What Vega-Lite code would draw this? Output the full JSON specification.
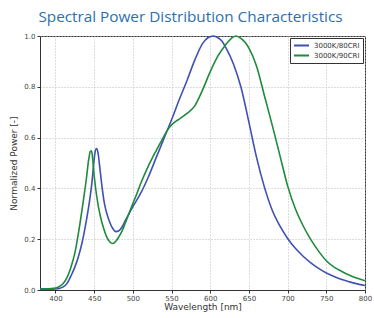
{
  "$schema": "https://vega.github.io/schema/vega-lite/v6.json",
  "width": 325,
  "height": 254,
  "autosize": {"type": "none"},
  "padding": {"left": 40, "top": 36, "right": 9, "bottom": 28},
  "background": "white",
  "title": {
    "text": "Spectral Power Distribution Characteristics",
    "font": "Open Sans",
    "fontSize": 15.3,
    "fontWeight": "normal",
    "color": "#2a6fb0",
    "anchor": "middle",
    "dx": -12,
    "offset": 7
  },
  "config": {
    "view": {"stroke": "#333", "strokeWidth": 1},
    "axis": {
      "labelFont": "DejaVu Sans",
      "labelFontSize": 7,
      "labelColor": "#444",
      "titleFont": "DejaVu Sans",
      "titleFontSize": 9,
      "titleFontWeight": "normal",
      "titleColor": "#333",
      "gridColor": "#bbb",
      "gridDash": [1, 2],
      "gridWidth": 1,
      "domainColor": "#333",
      "tickColor": "#333",
      "tickSize": 3,
      "tickOffset": 0,
      "labelFlush": false
    }
  },
  "data": {
    "values": [
      {"wl": 380, "p": 0.003, "s": "3000K/80CRI"},
      {"wl": 390, "p": 0.003, "s": "3000K/80CRI"},
      {"wl": 400, "p": 0.004, "s": "3000K/80CRI"},
      {"wl": 405, "p": 0.006, "s": "3000K/80CRI"},
      {"wl": 410, "p": 0.012, "s": "3000K/80CRI"},
      {"wl": 415, "p": 0.026, "s": "3000K/80CRI"},
      {"wl": 420, "p": 0.055, "s": "3000K/80CRI"},
      {"wl": 425, "p": 0.09, "s": "3000K/80CRI"},
      {"wl": 430, "p": 0.135, "s": "3000K/80CRI"},
      {"wl": 435, "p": 0.195, "s": "3000K/80CRI"},
      {"wl": 440, "p": 0.275, "s": "3000K/80CRI"},
      {"wl": 444, "p": 0.35, "s": "3000K/80CRI"},
      {"wl": 447, "p": 0.42, "s": "3000K/80CRI"},
      {"wl": 449.5, "p": 0.5, "s": "3000K/80CRI"},
      {"wl": 451.5, "p": 0.548, "s": "3000K/80CRI"},
      {"wl": 453, "p": 0.557, "s": "3000K/80CRI"},
      {"wl": 455, "p": 0.54, "s": "3000K/80CRI"},
      {"wl": 457, "p": 0.49, "s": "3000K/80CRI"},
      {"wl": 460, "p": 0.41, "s": "3000K/80CRI"},
      {"wl": 463, "p": 0.345, "s": "3000K/80CRI"},
      {"wl": 466, "p": 0.305, "s": "3000K/80CRI"},
      {"wl": 470, "p": 0.268, "s": "3000K/80CRI"},
      {"wl": 474, "p": 0.242, "s": "3000K/80CRI"},
      {"wl": 478, "p": 0.23, "s": "3000K/80CRI"},
      {"wl": 482, "p": 0.233, "s": "3000K/80CRI"},
      {"wl": 486, "p": 0.248, "s": "3000K/80CRI"},
      {"wl": 490, "p": 0.272, "s": "3000K/80CRI"},
      {"wl": 495, "p": 0.3, "s": "3000K/80CRI"},
      {"wl": 500, "p": 0.328, "s": "3000K/80CRI"},
      {"wl": 510, "p": 0.38, "s": "3000K/80CRI"},
      {"wl": 520, "p": 0.445, "s": "3000K/80CRI"},
      {"wl": 530, "p": 0.52, "s": "3000K/80CRI"},
      {"wl": 540, "p": 0.595, "s": "3000K/80CRI"},
      {"wl": 550, "p": 0.67, "s": "3000K/80CRI"},
      {"wl": 560, "p": 0.75, "s": "3000K/80CRI"},
      {"wl": 570, "p": 0.825, "s": "3000K/80CRI"},
      {"wl": 580, "p": 0.905, "s": "3000K/80CRI"},
      {"wl": 590, "p": 0.97, "s": "3000K/80CRI"},
      {"wl": 597, "p": 0.993, "s": "3000K/80CRI"},
      {"wl": 604, "p": 1.0, "s": "3000K/80CRI"},
      {"wl": 610, "p": 0.993, "s": "3000K/80CRI"},
      {"wl": 615, "p": 0.98, "s": "3000K/80CRI"},
      {"wl": 620, "p": 0.955, "s": "3000K/80CRI"},
      {"wl": 630, "p": 0.89, "s": "3000K/80CRI"},
      {"wl": 640, "p": 0.795, "s": "3000K/80CRI"},
      {"wl": 650, "p": 0.66, "s": "3000K/80CRI"},
      {"wl": 660, "p": 0.52, "s": "3000K/80CRI"},
      {"wl": 670, "p": 0.405, "s": "3000K/80CRI"},
      {"wl": 680, "p": 0.315, "s": "3000K/80CRI"},
      {"wl": 690, "p": 0.252, "s": "3000K/80CRI"},
      {"wl": 700, "p": 0.203, "s": "3000K/80CRI"},
      {"wl": 710, "p": 0.164, "s": "3000K/80CRI"},
      {"wl": 720, "p": 0.133, "s": "3000K/80CRI"},
      {"wl": 730, "p": 0.107, "s": "3000K/80CRI"},
      {"wl": 740, "p": 0.085, "s": "3000K/80CRI"},
      {"wl": 750, "p": 0.067, "s": "3000K/80CRI"},
      {"wl": 760, "p": 0.053, "s": "3000K/80CRI"},
      {"wl": 770, "p": 0.041, "s": "3000K/80CRI"},
      {"wl": 780, "p": 0.032, "s": "3000K/80CRI"},
      {"wl": 790, "p": 0.024, "s": "3000K/80CRI"},
      {"wl": 800, "p": 0.018, "s": "3000K/80CRI"},
      {"wl": 380, "p": 0.005, "s": "3000K/90CRI"},
      {"wl": 390, "p": 0.005, "s": "3000K/90CRI"},
      {"wl": 400, "p": 0.008, "s": "3000K/90CRI"},
      {"wl": 405, "p": 0.014, "s": "3000K/90CRI"},
      {"wl": 410, "p": 0.026, "s": "3000K/90CRI"},
      {"wl": 415, "p": 0.05, "s": "3000K/90CRI"},
      {"wl": 420, "p": 0.09, "s": "3000K/90CRI"},
      {"wl": 425, "p": 0.145, "s": "3000K/90CRI"},
      {"wl": 430, "p": 0.23, "s": "3000K/90CRI"},
      {"wl": 435, "p": 0.33, "s": "3000K/90CRI"},
      {"wl": 440, "p": 0.44, "s": "3000K/90CRI"},
      {"wl": 443, "p": 0.515, "s": "3000K/90CRI"},
      {"wl": 445, "p": 0.545, "s": "3000K/90CRI"},
      {"wl": 446.5, "p": 0.548, "s": "3000K/90CRI"},
      {"wl": 448, "p": 0.52, "s": "3000K/90CRI"},
      {"wl": 450, "p": 0.45, "s": "3000K/90CRI"},
      {"wl": 453, "p": 0.375, "s": "3000K/90CRI"},
      {"wl": 458, "p": 0.29, "s": "3000K/90CRI"},
      {"wl": 462, "p": 0.245, "s": "3000K/90CRI"},
      {"wl": 466, "p": 0.21, "s": "3000K/90CRI"},
      {"wl": 470, "p": 0.19, "s": "3000K/90CRI"},
      {"wl": 474, "p": 0.183, "s": "3000K/90CRI"},
      {"wl": 478, "p": 0.192, "s": "3000K/90CRI"},
      {"wl": 482, "p": 0.21, "s": "3000K/90CRI"},
      {"wl": 486, "p": 0.232, "s": "3000K/90CRI"},
      {"wl": 490, "p": 0.262, "s": "3000K/90CRI"},
      {"wl": 495, "p": 0.302, "s": "3000K/90CRI"},
      {"wl": 500, "p": 0.34, "s": "3000K/90CRI"},
      {"wl": 505, "p": 0.378, "s": "3000K/90CRI"},
      {"wl": 510, "p": 0.418, "s": "3000K/90CRI"},
      {"wl": 520, "p": 0.488, "s": "3000K/90CRI"},
      {"wl": 530, "p": 0.548, "s": "3000K/90CRI"},
      {"wl": 540, "p": 0.604, "s": "3000K/90CRI"},
      {"wl": 545, "p": 0.631, "s": "3000K/90CRI"},
      {"wl": 550, "p": 0.65, "s": "3000K/90CRI"},
      {"wl": 555, "p": 0.663, "s": "3000K/90CRI"},
      {"wl": 560, "p": 0.673, "s": "3000K/90CRI"},
      {"wl": 570, "p": 0.695, "s": "3000K/90CRI"},
      {"wl": 580, "p": 0.725, "s": "3000K/90CRI"},
      {"wl": 590, "p": 0.787, "s": "3000K/90CRI"},
      {"wl": 600, "p": 0.86, "s": "3000K/90CRI"},
      {"wl": 610, "p": 0.922, "s": "3000K/90CRI"},
      {"wl": 620, "p": 0.966, "s": "3000K/90CRI"},
      {"wl": 627, "p": 0.99, "s": "3000K/90CRI"},
      {"wl": 633, "p": 1.0, "s": "3000K/90CRI"},
      {"wl": 640, "p": 0.99, "s": "3000K/90CRI"},
      {"wl": 645, "p": 0.975, "s": "3000K/90CRI"},
      {"wl": 650, "p": 0.952, "s": "3000K/90CRI"},
      {"wl": 660, "p": 0.88, "s": "3000K/90CRI"},
      {"wl": 670, "p": 0.765, "s": "3000K/90CRI"},
      {"wl": 680, "p": 0.65, "s": "3000K/90CRI"},
      {"wl": 690, "p": 0.53, "s": "3000K/90CRI"},
      {"wl": 700, "p": 0.41, "s": "3000K/90CRI"},
      {"wl": 710, "p": 0.32, "s": "3000K/90CRI"},
      {"wl": 720, "p": 0.253, "s": "3000K/90CRI"},
      {"wl": 730, "p": 0.198, "s": "3000K/90CRI"},
      {"wl": 740, "p": 0.153, "s": "3000K/90CRI"},
      {"wl": 750, "p": 0.115, "s": "3000K/90CRI"},
      {"wl": 760, "p": 0.09, "s": "3000K/90CRI"},
      {"wl": 770, "p": 0.073, "s": "3000K/90CRI"},
      {"wl": 780, "p": 0.058, "s": "3000K/90CRI"},
      {"wl": 790, "p": 0.046, "s": "3000K/90CRI"},
      {"wl": 800, "p": 0.036, "s": "3000K/90CRI"}
    ]
  },
  "mark": {"type": "line", "interpolate": "monotone", "strokeWidth": 1.6},
  "encoding": {
    "x": {
      "field": "wl",
      "type": "quantitative",
      "scale": {"domain": [380, 800], "nice": false, "zero": false},
      "axis": {"title": "Wavelength [nm]", "values": [400, 450, 500, 550, 600, 650, 700, 750, 800], "titlePadding": 1, "labelPadding": 1}
    },
    "y": {
      "field": "p",
      "type": "quantitative",
      "scale": {"domain": [0, 1], "nice": false},
      "axis": {"title": "Normalized Power [-]", "values": [0, 0.2, 0.4, 0.6, 0.8, 1.0], "format": ".1f", "titlePadding": 5, "labelPadding": 2}
    },
    "color": {
      "field": "s",
      "type": "nominal",
      "scale": {"domain": ["3000K/80CRI", "3000K/90CRI"], "range": ["#3f51b3", "#1e8b3c"]},
      "legend": {
        "title": null,
        "orient": "top-right",
        "offset": 2,
        "symbolType": "stroke",
        "symbolSize": 225,
        "symbolStrokeWidth": 2,
        "clipHeight": 9,
        "labelFont": "DejaVu Sans",
        "labelFontSize": 7,
        "labelColor": "#333",
        "strokeColor": "#333",
        "fillColor": "white",
        "padding": 3,
        "rowPadding": 1,
        "labelOffset": 4
      }
    }
  }
}
